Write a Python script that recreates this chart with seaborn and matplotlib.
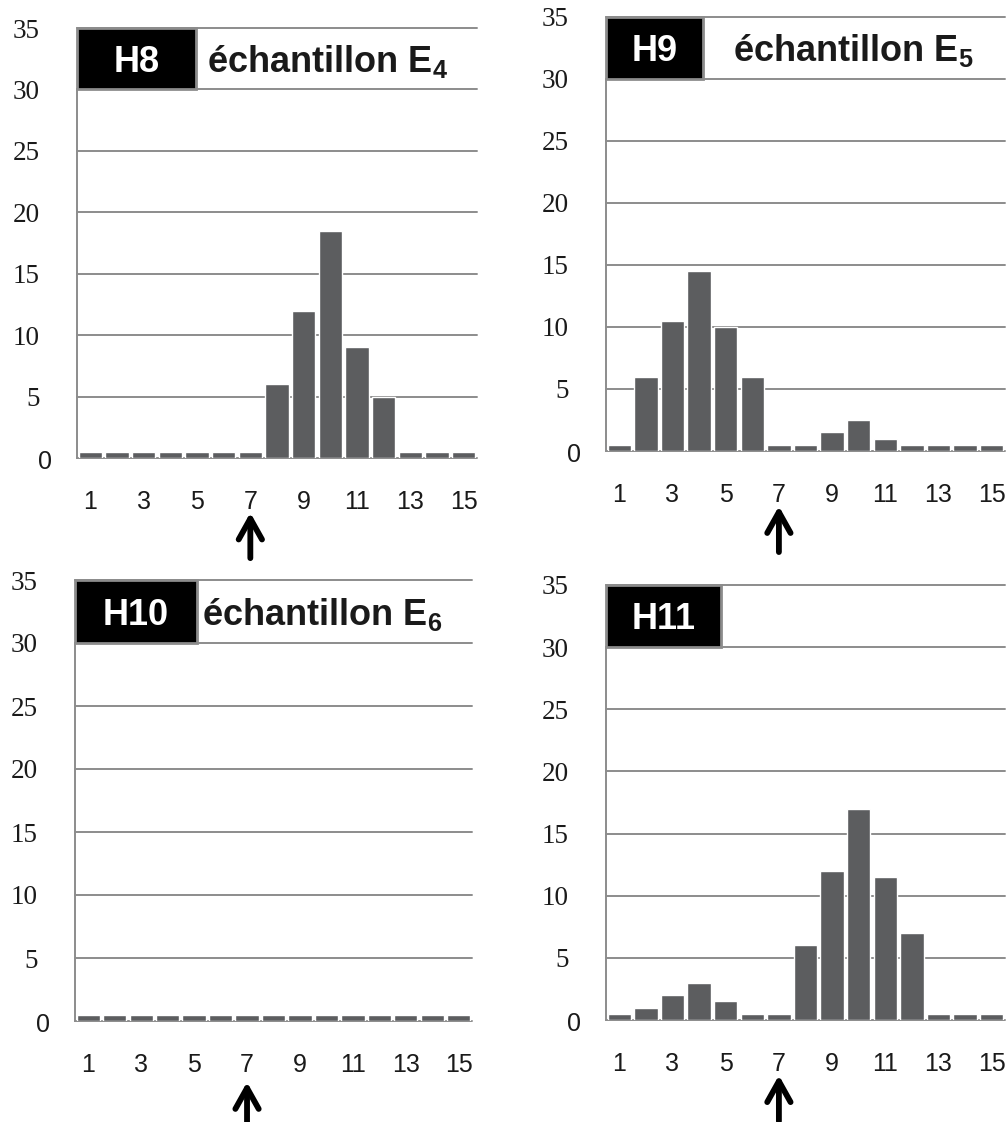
import numpy as np
import pandas as pd
import matplotlib
matplotlib.use("Agg")
import matplotlib.pyplot as plt
import seaborn as sns
from matplotlib.patches import Rectangle

# classes 1..15 ; 0.5 = empty class drawn as a thin bar
classes = list(range(1, 16))
h8_values = [0.5, 0.5, 0.5, 0.5, 0.5, 0.5, 0.5, 6, 12, 18.5, 9, 5, 0.5, 0.5, 0.5]
h9_values = [0.5, 6, 10.5, 14.5, 10, 6, 0.5, 0.5, 1.5, 2.5, 1, 0.5, 0.5, 0.5, 0.5]
h10_values = [0.5] * 15
h11_values = [0.5, 1, 2, 3, 1.5, 0.5, 0.5, 6, 12, 17, 11.5, 7, 0.5, 0.5, 0.5]

panel_tags = ["H8", "H9", "H10", "H11"]
panel_labels = ["échantillon E$_\\mathregular{4}$", "échantillon E$_\\mathregular{5}$",
                "échantillon E$_\\mathregular{6}$", ""]
y_ticks = [0, 5, 10, 15, 20, 25, 30, 35]
x_tick_labels = ["1", "3", "5", "7", "9", "11", "13", "15"]
arrow_class = 7

sns.set_style("white")
plt.rcParams["font.family"] = ["Liberation Sans", "DejaVu Sans"]
plt.rcParams["mathtext.fontset"] = "custom"
plt.rcParams["mathtext.bf"] = "Liberation Sans:bold"
plt.rcParams["mathtext.rm"] = "Liberation Sans:bold"

W, H = 1008, 1122
fig = plt.figure(figsize=(W / 100, H / 100), dpi=100)

# pixel boxes: left, right, top(y=35), bottom(y=0)
boxes = [(77, 477, 28, 458), (606, 1005, 17, 451),
         (75, 472, 580, 1021), (606, 1005, 585, 1020)]
tag_ends = [3.96, 3.15, 4.11, 3.82]
label_x = [4.37, 4.27, 4.3, 0]
arrow_tip = [-4.45, -4.45, -4.85, -4.45]

grid_col = "#8c8c8c"
bar_col = "#5c5d5f"
text_col = "#1a1a1a"

for i, values in enumerate([h8_values, h9_values, h10_values, h11_values]):
    l, r, t, b = boxes[i]
    ax = fig.add_axes([l / W, 1 - b / H, (r - l) / W, (b - t) / H])
    df = pd.DataFrame({"classe": classes, "n": values})
    sns.barplot(data=df, x="classe", y="n", color=bar_col, saturation=1,
                width=0.88, ax=ax, zorder=3)
    ax.set_xlim(-0.5, 14.5)
    ax.set_ylim(0, 35)
    ax.set_xlabel("")
    ax.set_ylabel("")

    # grid
    for yv in y_ticks:
        ax.axhline(yv, color=grid_col, lw=1.4, zorder=1, clip_on=False)
    for s in ["top", "right", "bottom"]:
        ax.spines[s].set_visible(False)
    ax.spines["left"].set_color(grid_col)
    ax.spines["left"].set_linewidth(1.4)
    ax.spines["left"].set_bounds(0, 30)

    # y labels in serif, the zero drawn apart (sans, shifted right like the original)
    ax.set_yticks(y_ticks)
    ax.set_yticklabels([""] + [str(v) for v in y_ticks[1:]], family="Liberation Serif",
                       fontsize=19.5, color=text_col)
    ax.tick_params(axis="y", length=7, width=1.4, color=grid_col, pad=20)
    ax.text(-25 / (r - l), -0.3, "0", transform=ax.get_yaxis_transform(),
            ha="right", va="center", fontsize=18, color=text_col)

    ax.set_xticks(np.arange(0, 15, 2))
    ax.set_xticklabels(x_tick_labels, fontsize=18, color=text_col)
    ax.set_xticks(np.arange(-0.5, 15, 1), minor=True)
    ax.tick_params(axis="x", which="major", length=0, pad=23)
    ax.tick_params(axis="x", which="minor", length=7, width=1.4, color=grid_col)

    # title box
    ax.add_patch(Rectangle((-0.5, 30), tag_ends[i] + 0.5, 5, facecolor="black",
                           edgecolor=grid_col, lw=2, zorder=4, clip_on=False))
    ax.text((tag_ends[i] - 0.5) / 2, 31.45, panel_tags[i], color="white",
            fontsize=26, fontweight="bold", ha="center", va="baseline", zorder=5)
    if panel_labels[i]:
        ax.text(label_x[i], 31.45, panel_labels[i], color=text_col,
                fontsize=26, fontweight="bold", ha="left", va="baseline", zorder=5)

    # arrow under class 7
    xa = classes.index(arrow_class)
    ax.annotate("", xy=(xa, arrow_tip[i]), xytext=(xa, arrow_tip[i] - 3.7),
                xycoords="data", annotation_clip=False,
                arrowprops=dict(arrowstyle="->,head_length=0.75,head_width=0.42",
                                lw=4.2, color="black", mutation_scale=20,
                                shrinkA=0, shrinkB=0))

fig.savefig("out.png", dpi=100)
